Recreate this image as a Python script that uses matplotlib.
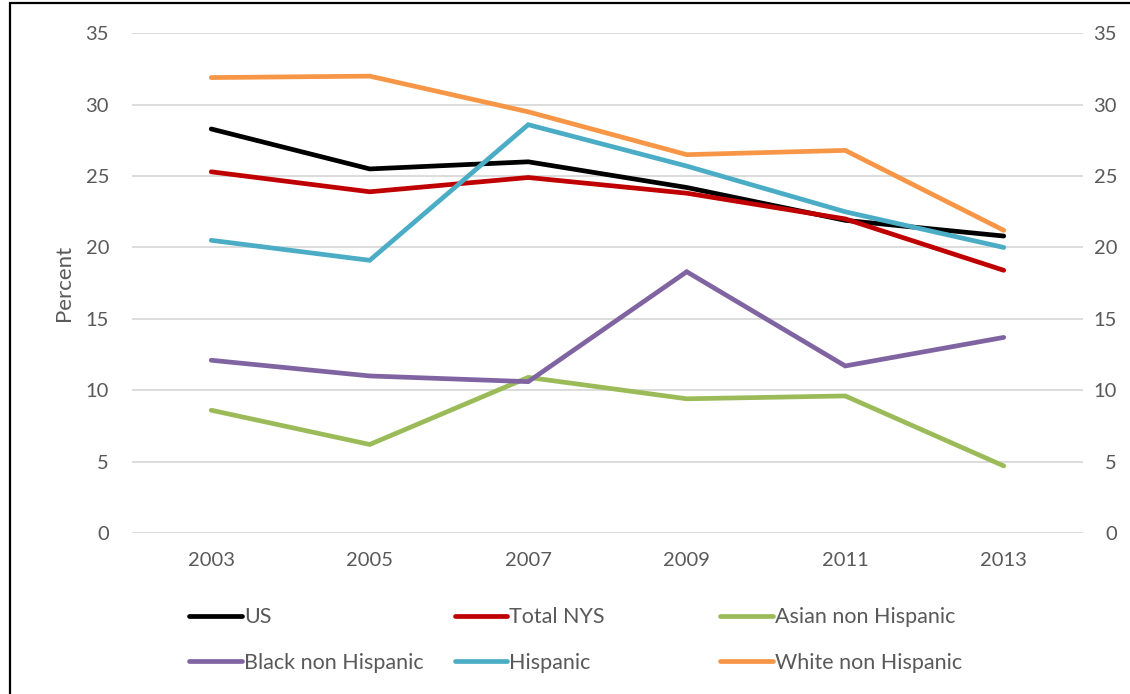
import matplotlib.pyplot as plt
from matplotlib.patches import Rectangle

years = ['2003', '2005', '2007', '2009', '2011', '2013']

us = [28.3, 25.5, 26.0, 24.2, 21.9, 20.8]
total_nys = [25.3, 23.9, 24.9, 23.8, 22.0, 18.4]
asian = [8.6, 6.2, 10.9, 9.4, 9.6, 4.7]
black = [12.1, 11.0, 10.6, 18.3, 11.7, 13.7]
hispanic = [20.5, 19.1, 28.6, 25.7, 22.5, 20.0]
white = [31.9, 32.0, 29.5, 26.5, 26.8, 21.2]

names = ['US', 'Total NYS', 'Asian non Hispanic',
         'Black non Hispanic', 'Hispanic', 'White non Hispanic']
colors = ['#000000', '#C00000', '#9BBB59', '#8064A2', '#4BACC6', '#F79646']
series = [us, total_nys, asian, black, hispanic, white]

plt.rcParams['font.family'] = ['Lato', 'DejaVu Sans']
txt = '#595959'

fig = plt.figure(figsize=(11.3, 6.94), dpi=100)
ax = fig.add_axes([0.1168, 0.232, 0.8416, 0.72])

x = range(len(years))
lines = []
for vals, name, c in zip(series, names, colors):
	l, = ax.plot(x, vals, color=c, lw=3.4, label=name, solid_capstyle='round', solid_joinstyle='miter')
	lines.append(l)

ax.set_xlim(-0.5, len(years) - 0.5)
ax.set_ylim(0, 35)
ax.set_yticks(range(0, 36, 5))
ax.set_xticks(list(x))
ax.set_xticklabels(years)
ax.grid(axis='y', color='#D9D9D9', lw=1.3)
ax.set_axisbelow(True)
for s in ax.spines.values():
	s.set_visible(False)
ax.tick_params(axis='both', length=0, labelsize=14.5, colors=txt)
ax.tick_params(axis='y', pad=16.5)
ax.tick_params(axis='x', pad=14)
ax.set_ylabel('Percent', fontsize=16, color=txt, labelpad=8)

# right hand axis, same scale, labels right aligned
ax2 = ax.twinx()
ax2.set_ylim(ax.get_ylim())
ax2.set_yticks(range(0, 36, 5))
for s in ax2.spines.values():
	s.set_visible(False)
ax2.tick_params(axis='y', length=0, labelsize=14.5, colors=txt, pad=24.5)
for t in ax2.get_yticklabels():
	t.set_horizontalalignment('right')

# legend: Excel style grid, rows filled first, equal column widths
col_x = [0.1674, 0.4023, 0.6373]
for i, cx in enumerate(col_x):
	hs = [lines[i], lines[i + 3]]
	leg = fig.legend(hs, [h.get_label() for h in hs], loc='center left',
	                 bbox_to_anchor=(cx, 0.0778), frameon=False, fontsize=15.5,
	                 handlelength=2.45, handletextpad=0.1, labelspacing=1.2,
	                 borderaxespad=0, borderpad=0)
	for t in leg.get_texts():
		t.set_color(txt)

# outer frame
fig.patches.append(Rectangle((0.0088, -0.1), 1.2, 1.0957, transform=fig.transFigure,
                             fill=False, ec='black', lw=1.6))

fig.savefig('out.png', dpi=100)
